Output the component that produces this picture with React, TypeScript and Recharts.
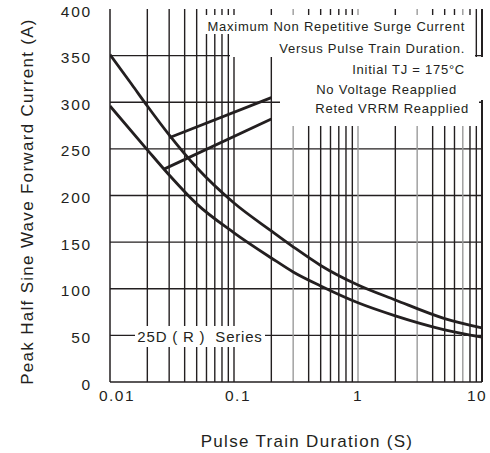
import { LineChart, Line, XAxis, YAxis, ReferenceLine } from "recharts";

// upper decay curve
const upperDuration = [0.01, 0.015, 0.02, 0.03, 0.05, 0.1, 0.2, 0.3, 0.5, 1, 2, 5, 10];
const upperCurrent = [351, 319, 296, 265, 230, 192, 162, 145, 125, 104, 88, 68, 58];

// lower decay curve
const lowerDuration = [0.01, 0.02, 0.03, 0.05, 0.1, 0.2, 0.3, 0.5, 1, 2, 5, 10];
const lowerCurrent = [296, 249, 222, 191, 160, 133, 118, 103, 85, 71, 56, 48];

// short rising lines
const riseADuration = [0.03, 0.2];
const riseACurrent = [262, 305];
const riseBDuration = [0.027, 0.2];
const riseBCurrent = [228, 282];

const xTicks = [0.01, 0.1, 1, 10];
const xTickLabels = ["0.01", "0.1", "1", "10"];
const yTicks = [0, 50, 100, 150, 200, 250, 300, 350, 400];
const hGrid = [50, 100, 150, 200, 250, 300, 350];
const vGrid = [
  0.02, 0.03, 0.04, 0.05, 0.06, 0.07, 0.08, 0.09, 0.1,
  0.2, 0.3, 0.4, 0.5, 0.6, 0.7, 0.8, 0.9, 1,
  2, 3, 4, 5, 6, 7, 8, 9, 10,
];
const grayGrid = [0.3, 1, 3, 7];

const toRows = (xs: number[], ys: number[]) => xs.map((x, i) => ({ t: x, a: ys[i] }));

const FONT = "'Liberation Sans', Arial, sans-serif";
const INK = "#231f20";

const notes = [
  { text: "Maximum Non Repetitive Surge Current", right: 465, y: 27 },
  { text: "Versus Pulse Train Duration.", right: 465, y: 49 },
  { text: "Initial TJ = 175°C", right: 465, y: 70 },
  { text: "No Voltage Reapplied", right: 457, y: 90 },
  { text: "Reted VRRM Reapplied", right: 469, y: 109 },
];

// labels in the scan sit a little inside the frame
const xShift = [7, 4, 0, -5];

const XTick = (props: any) => {
  const { x, y, payload } = props;
  const i = xTicks.indexOf(payload.value);
  return (
    <text
      x={x + (xShift[i] ?? 0)}
      y={y}
      dy="0.71em"
      textAnchor="middle"
      fill={INK}
      fontSize={15.5}
      fontFamily={FONT}
      letterSpacing={1.5}
    >
      {xTickLabels[i] ?? String(payload.value)}
    </text>
  );
};

const YTick = (props: any) => {
  const { x, y, payload } = props;
  return (
    <text
      x={x}
      y={y + 2}
      dy="0.355em"
      textAnchor="end"
      fill={INK}
      fontSize={15.5}
      fontFamily={FONT}
      letterSpacing={1.8}
    >
      {payload.value}
    </text>
  );
};

const App = () => {
  return (
    <div style={{ position: "absolute", left: 0, top: 0, width: 490, height: 453, fontFamily: FONT }}>
      <LineChart
        width={490}
        height={453}
        margin={{ top: 9, right: 8, bottom: 0, left: 0 }}
        style={{ overflow: "visible" }}
      >
        <XAxis
          dataKey="t"
          type="number"
          scale="log"
          domain={[0.01, 10]}
          allowDataOverflow
          ticks={xTicks}
          tickLine={false}
          tickSize={4}
          tickMargin={4}
          height={71}
          axisLine={{ stroke: INK, strokeWidth: 1.5 }}
          tick={<XTick />}
          label={{
            value: "Pulse Train Duration (S)",
            position: "center",
            dx: 11,
            dy: 23,
            fill: INK,
            fontSize: 17,
            fontFamily: FONT,
            letterSpacing: 1.3,
          }}
        />
        <YAxis
          type="number"
          domain={[0, 400]}
          ticks={yTicks}
          tickLine={false}
          tickSize={8}
          tickMargin={10}
          width={110}
          axisLine={{ stroke: INK, strokeWidth: 1.5 }}
          tick={<YTick />}
          label={{
            value: "Peak Half Sine Wave Forward Current (A)",
            angle: -90,
            position: "center",
            dx: -28,
            dy: 6,
            fill: INK,
            fontSize: 17,
            fontFamily: FONT,
            letterSpacing: 1.3,
          }}
        />
        {hGrid.map((v) => (
          <ReferenceLine key={"h" + v} y={v} stroke={INK} strokeWidth={1.4} />
        ))}
        {vGrid.map((v) => (
          <ReferenceLine
            key={"v" + v}
            x={v}
            stroke={grayGrid.includes(v) ? "#9a9a9a" : INK}
            strokeWidth={v === 10 ? 2 : 1.4}
          />
        ))}
        <Line
          data={toRows(upperDuration, upperCurrent)}
          dataKey="a"
          type="monotone"
          stroke={INK}
          strokeWidth={2.8}
          dot={false}
          isAnimationActive={false}
        />
        <Line
          data={toRows(lowerDuration, lowerCurrent)}
          dataKey="a"
          type="monotone"
          stroke={INK}
          strokeWidth={2.8}
          dot={false}
          isAnimationActive={false}
        />
        <Line
          data={toRows(riseADuration, riseACurrent)}
          dataKey="a"
          type="linear"
          stroke={INK}
          strokeWidth={2.8}
          dot={false}
          isAnimationActive={false}
        />
        <Line
          data={toRows(riseBDuration, riseBCurrent)}
          dataKey="a"
          type="linear"
          stroke={INK}
          strokeWidth={2.8}
          dot={false}
          isAnimationActive={false}
        />
      </LineChart>

      {/* white backing behind the note block */}
      <div style={{ position: "absolute", left: 204, top: 15, width: 271, height: 19, background: "#fff" }} />
      <div style={{ position: "absolute", left: 230, top: 33, width: 245, height: 24, background: "#fff" }} />
      <div style={{ position: "absolute", left: 280, top: 57, width: 205, height: 43, background: "#fff" }} />
      <div style={{ position: "absolute", left: 280, top: 100, width: 199, height: 26, background: "#fff" }} />
      {notes.map((n) => (
        <div
          key={n.text}
          style={{
            position: "absolute",
            right: 490 - n.right,
            top: n.y - 8,
            height: 16,
            lineHeight: "16px",
            fontSize: 13,
            letterSpacing: 0.75,
            color: INK,
            whiteSpace: "nowrap",
          }}
        >
          {n.text}
        </div>
      ))}

      <div
        style={{
          position: "absolute",
          left: 135,
          top: 326,
          width: 130,
          height: 21,
          lineHeight: "21px",
          background: "#fff",
          textAlign: "center",
          fontSize: 15,
          letterSpacing: 0.8,
          color: INK,
          whiteSpace: "pre",
        }}
      >
        {"25D ( R )  Series"}
      </div>
    </div>
  );
};

export default App;
